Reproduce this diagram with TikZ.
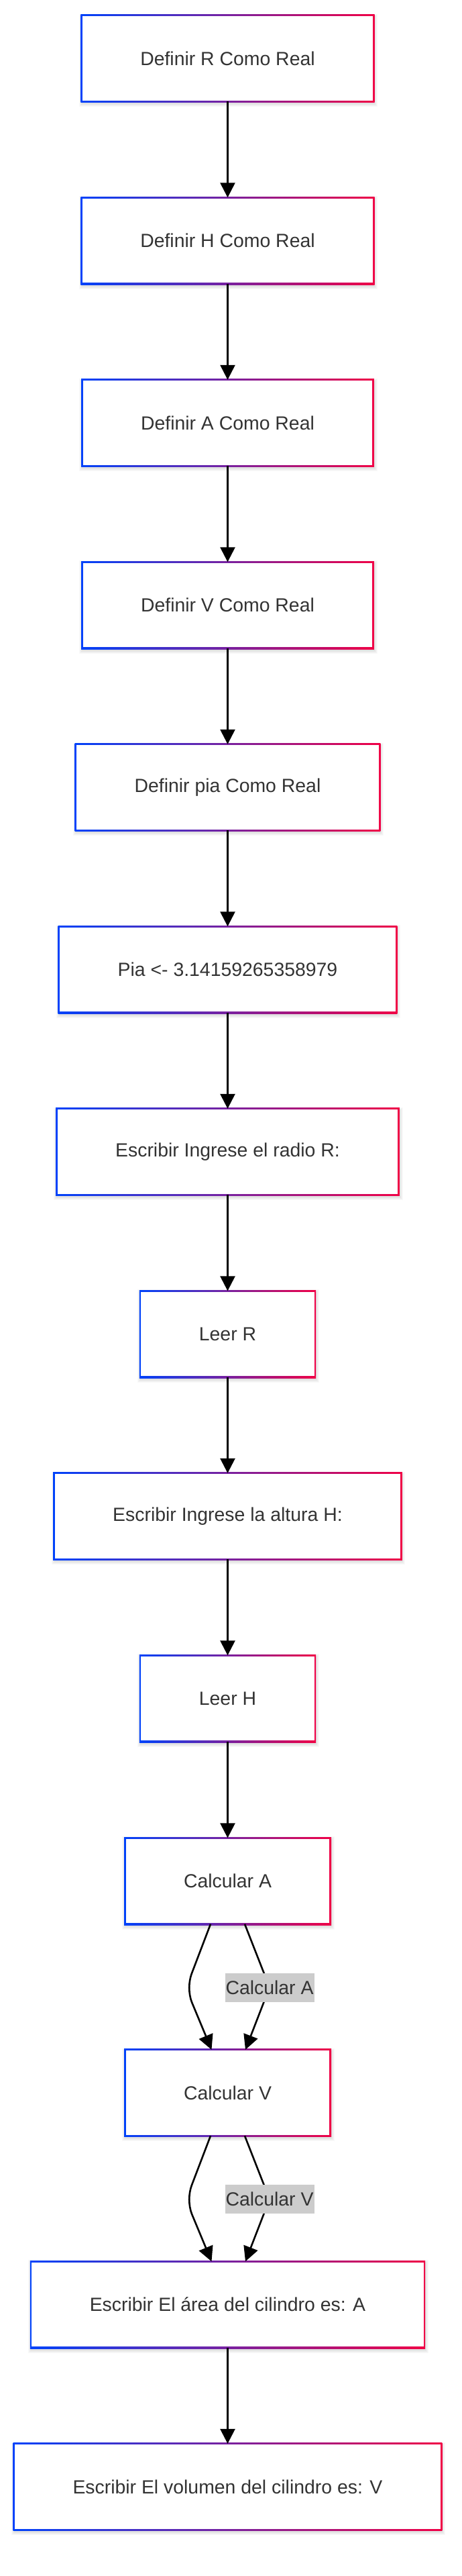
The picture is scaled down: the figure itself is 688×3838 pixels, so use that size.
\documentclass[tikz,border=0pt]{standalone}
\usepackage{fontspec}
\setmainfont{Liberation Sans}
\usetikzlibrary{arrows.meta,backgrounds}
\definecolor{gblue}{RGB}{0,66,250}
\definecolor{gred}{RGB}{240,0,70}
\definecolor{txt}{RGB}{51,51,51}
\definecolor{lblbg}{RGB}{204,204,204}
\newcommand{\decor}[1]{%
  \begin{pgfonlayer}{background}
    \foreach \k in {1,...,5}{%
      \fill[black,opacity=0.025] ([xshift=-\k pt+1pt,yshift=\k pt-3pt]#1.north west) rectangle ([xshift=\k pt+1pt,yshift=-\k pt-3pt]#1.south east);}
    \shade[left color=gblue,right color=gred] ([xshift=-1.3pt,yshift=1.3pt]#1.north west) rectangle ([xshift=1.3pt,yshift=-1.3pt]#1.south east);
    \fill[white] ([xshift=1.3pt,yshift=-1.3pt]#1.north west) rectangle ([xshift=-1.3pt,yshift=1.3pt]#1.south east);
  \end{pgfonlayer}}
\begin{document}
\begin{tikzpicture}[x=1pt,y=-1pt,
  box/.style={rectangle, inner xsep=87.5pt, inner ysep=0pt, minimum height=128pt, text=txt, font=\fontsize{28.4}{34}\selectfont},
  conn/.style={line width=2.6pt, draw=black, -{Triangle[length=22pt,width=22pt]}},
  elabel/.style={rectangle, fill=lblbg, text=txt, font=\fontsize{28.4}{34}\selectfont, inner xsep=1pt, inner ysep=0pt, minimum height=43pt}]
\begin{pgfonlayer}{background}
\fill[white] (0,0) rectangle (688,3838);
\end{pgfonlayer}
\useasboundingbox (0,0) rectangle (688,3838);

\node[box] (n1) at (339.5,87) {Definir R Como Real};
\node[box] (n2) at (339.5,358.5) {Definir H Como Real};
\node[box] (n3) at (339.5,630) {Definir A Como Real};
\node[box] (n4) at (339.5,901.5) {Definir V Como Real};
\node[box] (n5) at (339.5,1173) {Definir pia Como Real};
\node[box] (n6) at (339.5,1444.5) {Pia <- 3.14159265358979};
\node[box] (n7) at (339.5,1716) {Escribir Ingrese el radio R:};
\node[box] (n8) at (339.5,1987.5) {Leer R};
\node[box] (n9) at (339.5,2259) {Escribir Ingrese la altura H:};
\node[box] (n10) at (339.5,2530.5) {Leer H};
\node[box] (n11) at (339.5,2802.5) {Calcular A};
\node[box] (n12) at (339.5,3118) {Calcular V};
\node[box] (n13) at (339.5,3433.5) {Escribir El área del cilindro es: A};
\node[box] (n14) at (339.5,3705) {Escribir El volumen del cilindro es: V};

\foreach \n in {n1,n2,n3,n4,n5,n6,n7,n8,n9,n10,n11,n12,n13,n14}{\decor{\n}}

\draw[conn] (n1) -- (n2);
\draw[conn] (n2) -- (n3);
\draw[conn] (n3) -- (n4);
\draw[conn] (n4) -- (n5);
\draw[conn] (n5) -- (n6);
\draw[conn] (n6) -- (n7);
\draw[conn] (n7) -- (n8);
\draw[conn] (n8) -- (n9);
\draw[conn] (n9) -- (n10);
\draw[conn] (n10) -- (n11);
\draw[conn] (n13) -- (n14);

\coordinate (m1) at (402,2961);
\coordinate (m2) at (402,3276.5);
\draw[conn] ([xshift=-25.5pt]n11.south) -- (286,2940) .. controls (281,2953) and (281,2970) .. (286,2983) -- ([xshift=-24pt]n12.north);
\draw[conn] ([xshift=25.5pt]n11.south) -- (m1) -- ([xshift=26.5pt]n12.north);
\draw[conn] ([xshift=-25.5pt]n12.south) -- (286,3255.5) .. controls (281,3268.5) and (281,3285.5) .. (286,3298.5) -- ([xshift=-24pt]n13.north);
\draw[conn] ([xshift=25.5pt]n12.south) -- (m2) -- ([xshift=26.5pt]n13.north);
\node[elabel] (l1) at (m1) {Calcular A};
\node[elabel] (l2) at (m2) {Calcular V};
\end{tikzpicture}
\end{document}
